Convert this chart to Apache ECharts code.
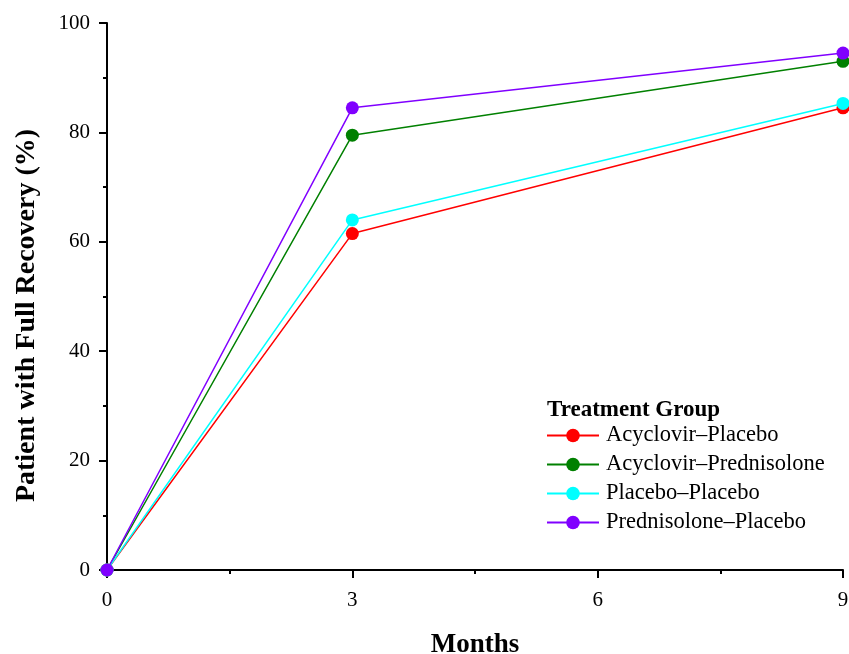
<!DOCTYPE html>
<html>
<head>
<meta charset="utf-8">
<script src="https://cdn.jsdelivr.net/npm/echarts@6/dist/echarts.min.js"></script>
<style>
html,body{margin:0;padding:0;background:#fff;}
#chart{width:849px;height:654px;}
</style>
</head>
<body>
<div id="chart"></div>
<script>
const months = [0, 3, 9];
const seriesNames = ['Acyclovir\u2013Placebo', 'Acyclovir\u2013Prednisolone', 'Placebo\u2013Placebo', 'Prednisolone\u2013Placebo'];
const acyclovirPlacebo = [0, 61.5, 84.5];
const acyclovirPrednisolone = [0, 79.5, 93];
const placeboPlacebo = [0, 64, 85.3];
const prednisolonePlacebo = [0, 84.5, 94.5];
const colors = ['#ff0000', '#008000', '#00ffff', '#8000ff'];
const xTicks = [0, 3, 6, 9];
const yTicks = [0, 20, 40, 60, 80, 100];

const allValues = [acyclovirPlacebo, acyclovirPrednisolone, placeboPlacebo, prednisolonePlacebo];
const font = 'Liberation Serif, Times New Roman, serif';

const chart = echarts.init(document.getElementById('chart'));
chart.setOption({
  animation: false,
  backgroundColor: '#fff',
  title: {
    text: 'Treatment Group',
    left: 547, top: 399, padding: 0,
    textStyle: {fontFamily: font, fontWeight: 'bold', fontSize: 23, color: '#000'}
  },
  grid: {left: 107, right: 6, top: 23, bottom: 84, outerBoundsMode: 'none', containLabel: false},
  legend: {
    orient: 'vertical',
    left: 546, top: 424, padding: 0,
    itemWidth: 52, itemHeight: 17, itemGap: 6,
    textStyle: {fontFamily: font, fontSize: 22.5, color: '#000', lineHeight: 22, padding: [0, 0, 0, 2]},
    data: seriesNames
  },
  xAxis: {
    type: 'value', min: 0, max: 9, interval: 3,
    name: 'Months', nameLocation: 'middle', nameGap: 62,
    nameTextStyle: {fontFamily: font, fontWeight: 'bold', fontSize: 27, color: '#000'},
    axisLine: {onZero: false, lineStyle: {color: '#000', width: 2}},
    axisTick: {inside: false, length: 8, lineStyle: {color: '#000', width: 2}},
    minorTick: {show: true, splitNumber: 2, length: 4, lineStyle: {color: '#000', width: 2}},
    axisLabel: {fontFamily: font, fontSize: 21, color: '#000', margin: 20,
      formatter: v => xTicks.includes(v) ? String(v) : ''},
    splitLine: {show: false}
  },
  yAxis: {
    type: 'value', min: 0, max: 100, interval: 20,
    name: 'Patient with Full Recovery (%)', nameLocation: 'middle', nameGap: 66,
    nameTextStyle: {fontFamily: font, fontWeight: 'bold', fontSize: 28, color: '#000', padding: [0, 38, 0, 0]},
    axisLine: {show: true, onZero: false, lineStyle: {color: '#000', width: 2}},
    axisTick: {show: true, inside: false, length: 8, lineStyle: {color: '#000', width: 2}},
    minorTick: {show: true, splitNumber: 2, length: 4, lineStyle: {color: '#000', width: 2}},
    axisLabel: {fontFamily: font, fontSize: 21, color: '#000', margin: 17,
      formatter: v => yTicks.includes(v) ? String(v) : ''},
    splitLine: {show: false}
  },
  series: seriesNames.map((name, i) => ({
    name: name,
    type: 'line',
    clip: false,
    data: months.map((m, j) => [m, allValues[i][j]]),
    symbol: 'circle',
    symbolSize: 13,
    color: colors[i],
    lineStyle: {width: 1.5, color: colors[i]},
    itemStyle: {color: colors[i]},
    z: 3 + i
  }))
});
</script>
</body>
</html>
